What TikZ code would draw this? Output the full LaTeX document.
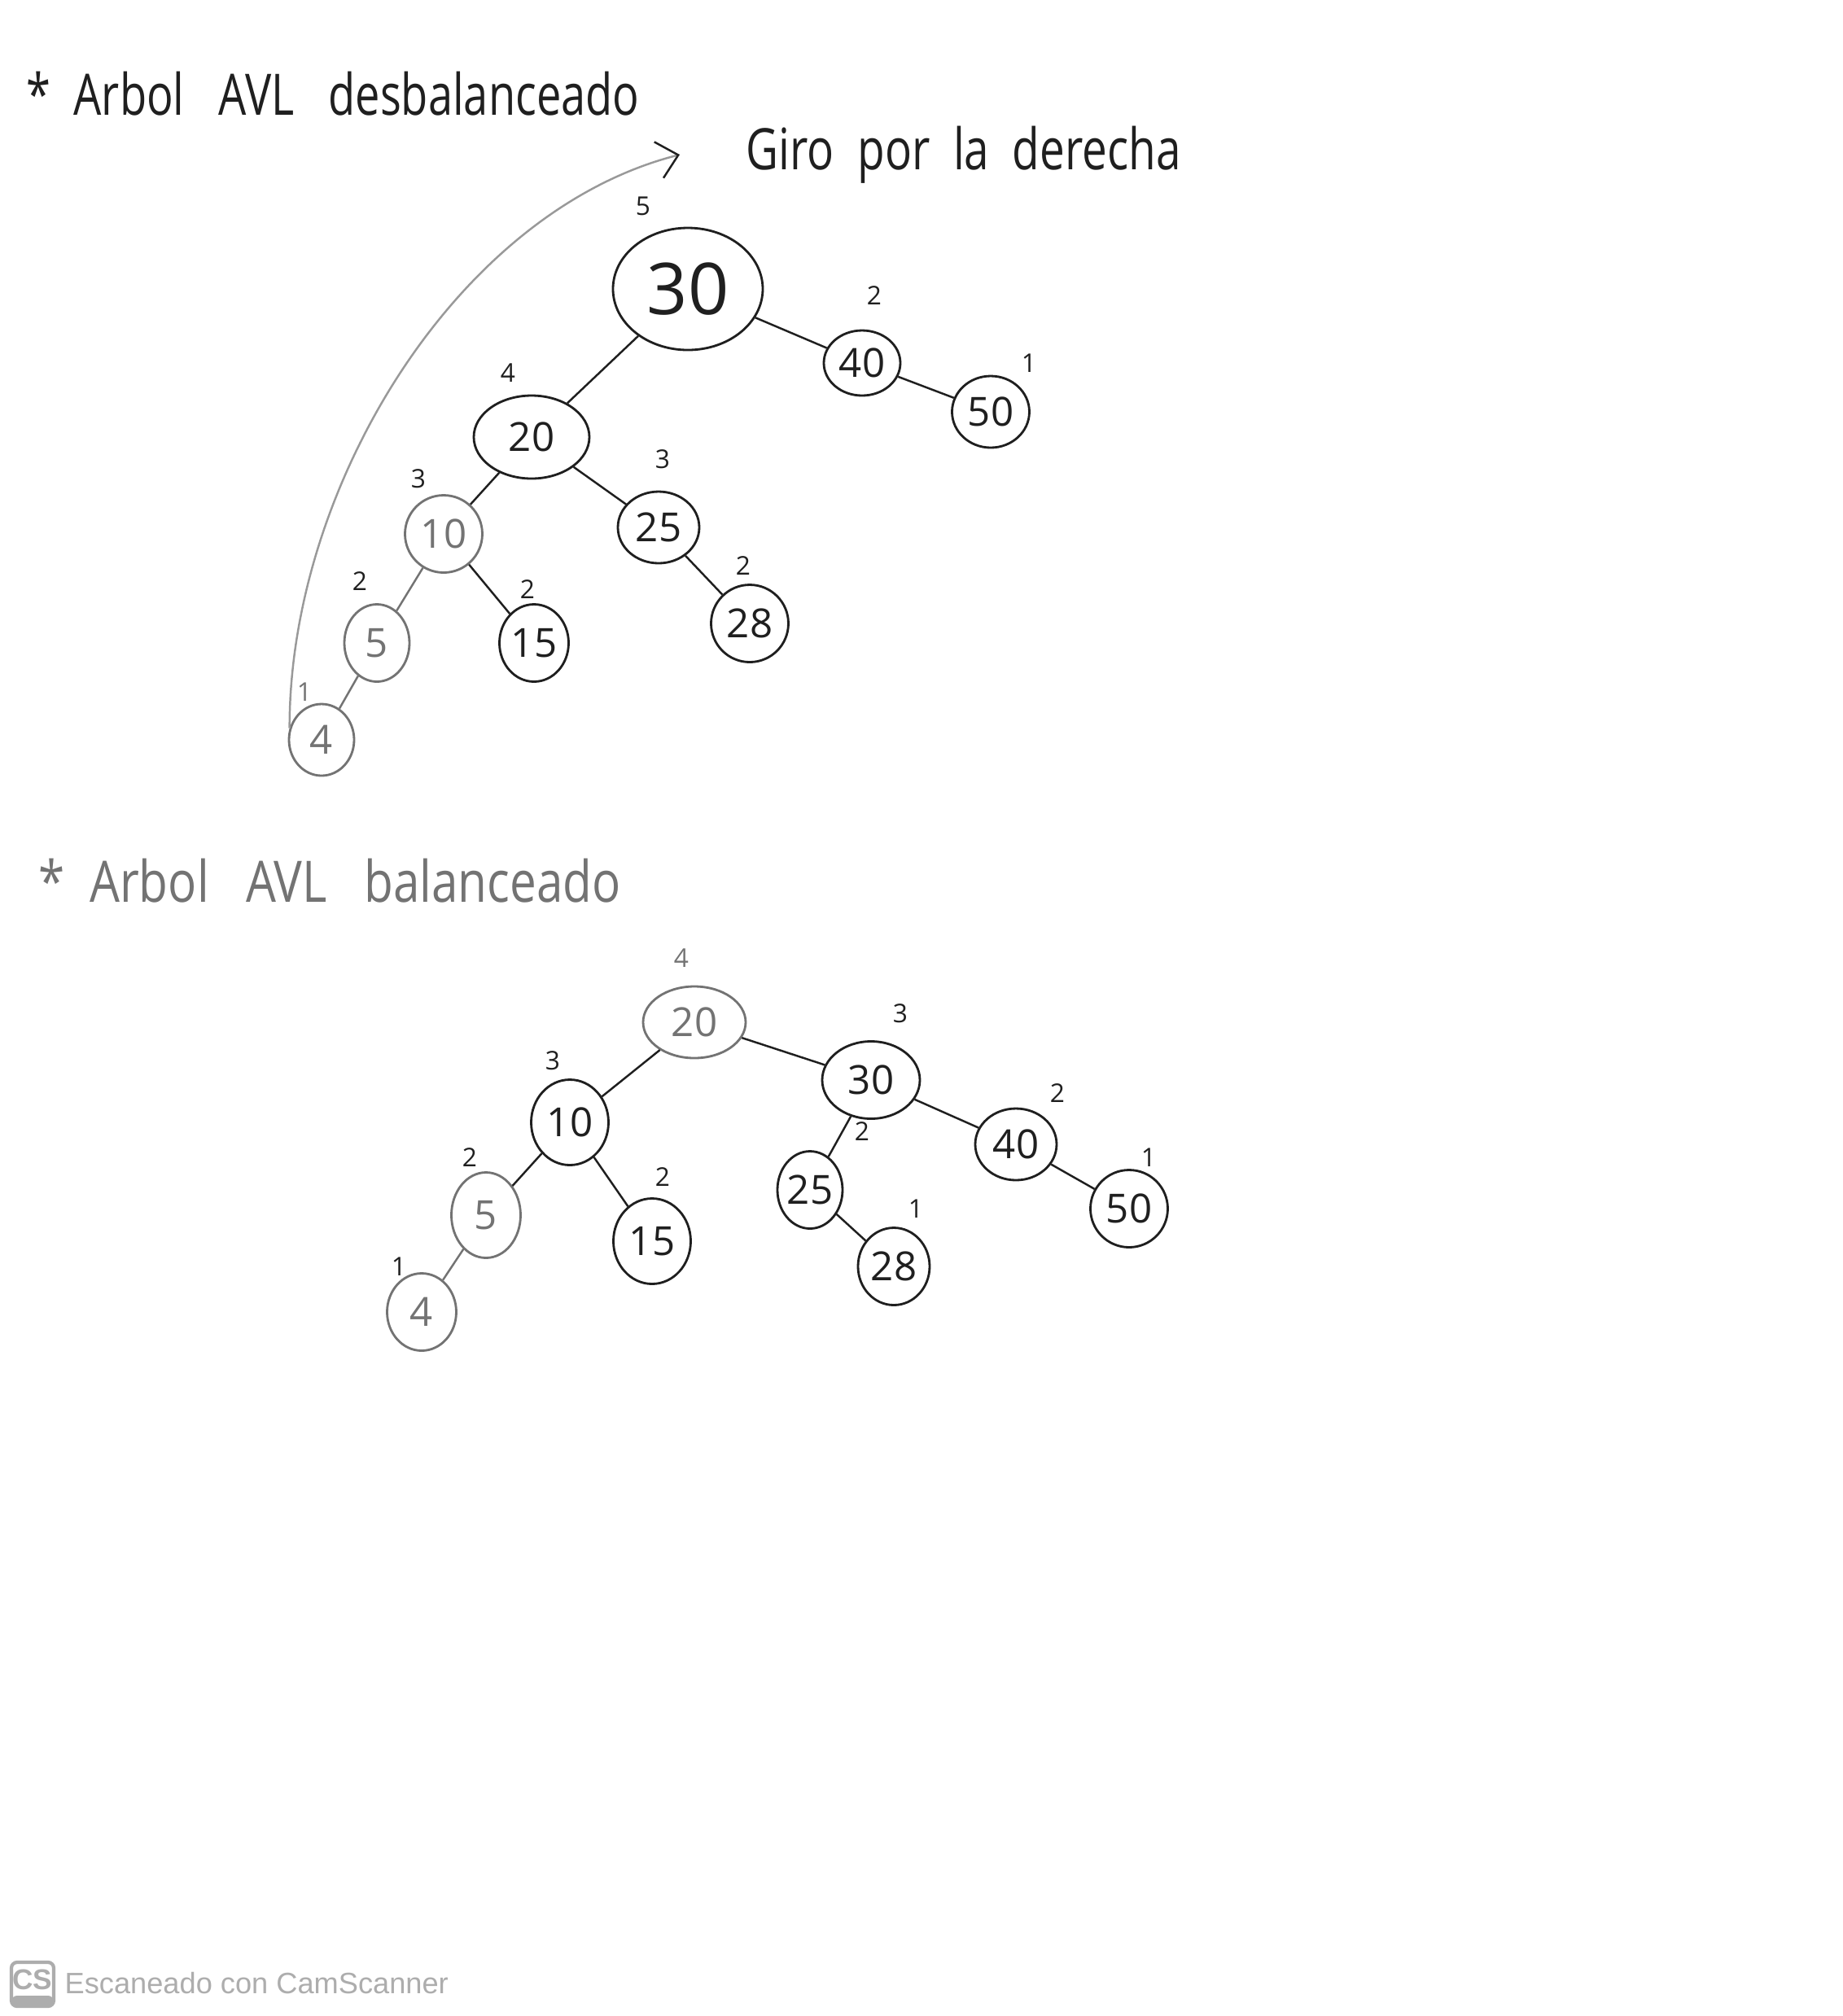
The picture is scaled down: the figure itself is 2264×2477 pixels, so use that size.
\documentclass[tikz,border=0pt]{standalone}
\usepackage{fontspec}
\setmainfont{Open Sans}
\newfontfamily\footfont{Liberation Sans}
\usetikzlibrary{shapes.geometric,arrows.meta}
\definecolor{ink}{gray}{0.12}
\definecolor{pencil}{gray}{0.45}
\definecolor{faint}{gray}{0.6}
\definecolor{footgray}{gray}{0.68}
\begin{document}
\begin{tikzpicture}[x=0.01cm,y=-0.01cm,
  nd/.style={draw=ink, ellipse, line width=0.8pt, inner sep=0pt, text=ink,
             font=\fontsize{14}{14}\selectfont},
  sz/.style 2 args={minimum width=#1*0.01cm, minimum height=#2*0.01cm},
  lt/.style={draw=pencil, text=pencil},
  ht/.style={font=\fontsize{9}{9}\selectfont, text=ink, inner sep=0pt},
  edg/.style={draw=ink, line width=0.7pt},
  ledg/.style={draw=pencil, line width=0.7pt},
  title/.style={font=\fontsize{20}{20}\selectfont, inner sep=0pt, anchor=west}
]
\useasboundingbox (0,0) rectangle (2264,2477);
\fill[white] (0,0) rectangle (2264,2477);

% titles
\node[title, text=ink] (tit1) at (32,115) {\scalebox{0.77}[1]{*\ \ Arbol\ \ \ AVL\ \ \ desbalanceado}};
\node[title, text=ink] (giro) at (916,190) {\scalebox{0.78}[1]{Giro\ \ por\ \ la\ \ derecha}};
\node[title, text=pencil] (tit2) at (47,1082) {\scalebox{0.83}[1]{*\ \ Arbol\ \ \ AVL\ \ \ balanceado}};

% ---------- top tree (unbalanced) ----------
\node[nd, sz={184}{150}, font=\fontsize{25}{25}\selectfont] (a30) at (845,355) {30};
\node[nd, sz={94}{80}]  (a40) at (1059,446) {40};
\node[nd, sz={95}{88}]  (a50) at (1217,506) {50};
\node[nd, sz={142}{102}] (a20) at (653,537) {20};
\node[nd, lt, sz={95}{95}]  (a10) at (545,656) {10};
\node[nd, sz={100}{88}] (a25) at (809,648) {25};
\node[nd, lt, sz={80}{95}]  (a5)  at (463,790) {5};
\node[nd, sz={85}{95}]  (a15) at (656,790) {15};
\node[nd, sz={95}{95}]  (a28) at (921,766) {28};
\node[nd, lt, sz={80}{88}]  (a4)  at (395,909) {4};

\node[ht] (ha30) at (790,253) {5};
\node[ht] (ha40) at (1074,363) {2};
\node[ht] (ha50) at (1264,446) {1};
\node[ht] (ha20) at (624,458) {4};
\node[ht] (ha10) at (514,588) {3};
\node[ht] (ha25) at (814,564) {3};
\node[ht] (ha5)  at (442,714) {2};
\node[ht] (ha15) at (648,724) {2};
\node[ht] (ha28) at (913,695) {2};
\node[ht, text=pencil] (ha4) at (374,850) {1};

\draw[edg] (a30) -- (a40);
\draw[edg] (a40) -- (a50);
\draw[edg] (a30) -- (a20);
\draw[edg] (a20) -- (a10);
\draw[edg] (a20) -- (a25);
\draw[ledg] (a10) -- (a5);
\draw[edg] (a10) -- (a15);
\draw[edg] (a25) -- (a28);
\draw[ledg] (a5) -- (a4);

% rotation arrow
\coordinate (arrEnd) at (835,190);
\draw[draw=faint, line width=0.7pt, -{Straight Barb[length=7pt,width=13pt,color=ink]}]
  (a4.160) .. controls (355,600) and (560,260) .. (arrEnd);

% ---------- bottom tree (balanced) ----------
\node[nd, lt, sz={126}{88}] (b20) at (853,1256) {20};
\node[nd, sz={120}{95}]  (b30) at (1070,1327) {30};
\node[nd, sz={95}{105}]  (b10) at (700,1379) {10};
\node[nd, sz={100}{88}]  (b40) at (1248,1406) {40};
\node[nd, sz={95}{95}]   (b50) at (1387,1485) {50};
\node[nd, sz={80}{95}]   (b25) at (995,1462) {25};
\node[nd, sz={88}{95}]   (b28) at (1098,1556) {28};
\node[nd, lt, sz={85}{105}] (b5) at (597,1493) {5};
\node[nd, sz={95}{105}]  (b15) at (801,1525) {15};
\node[nd, lt, sz={85}{95}] (b4) at (518,1612) {4};

\node[ht, text=pencil] (hb20) at (837,1177) {4};
\node[ht] (hb30) at (1106,1245) {3};
\node[ht] (hb10) at (679,1303) {3};
\node[ht] (hb40) at (1299,1343) {2};
\node[ht] (hb50) at (1411,1422) {1};
\node[ht] (hb25) at (1059,1390) {2};
\node[ht] (hb28) at (1125,1485) {1};
\node[ht] (hb5)  at (577,1422) {2};
\node[ht] (hb15) at (814,1446) {2};
\node[ht] (hb4)  at (490,1556) {1};

\draw[edg] (b20) -- (b10);
\draw[edg] (b20) -- (b30);
\draw[edg] (b30) -- (b25);
\draw[edg] (b30) -- (b40);
\draw[edg] (b40) -- (b50);
\draw[edg] (b25) -- (b28);
\draw[edg] (b10) -- (b5);
\draw[edg] (b10) -- (b15);
\draw[ledg] (b5) -- (b4);

% ---------- footer ----------
\draw[footgray, line width=1.2pt, rounded corners=2pt] (14,2411) rectangle (66,2465);
\fill[footgray, rounded corners=2pt] (14,2452) rectangle (66,2465);
\node[font=\footfont\bfseries\fontsize{10}{10}\selectfont, text=footgray, inner sep=0pt] (cs) at (40,2432) {CS};
\node[font=\footfont\fontsize{10.3}{10.3}\selectfont, text=footgray, anchor=west, inner sep=0pt] (foot) at (79,2437) {Escaneado con CamScanner};
\end{tikzpicture}
\end{document}
